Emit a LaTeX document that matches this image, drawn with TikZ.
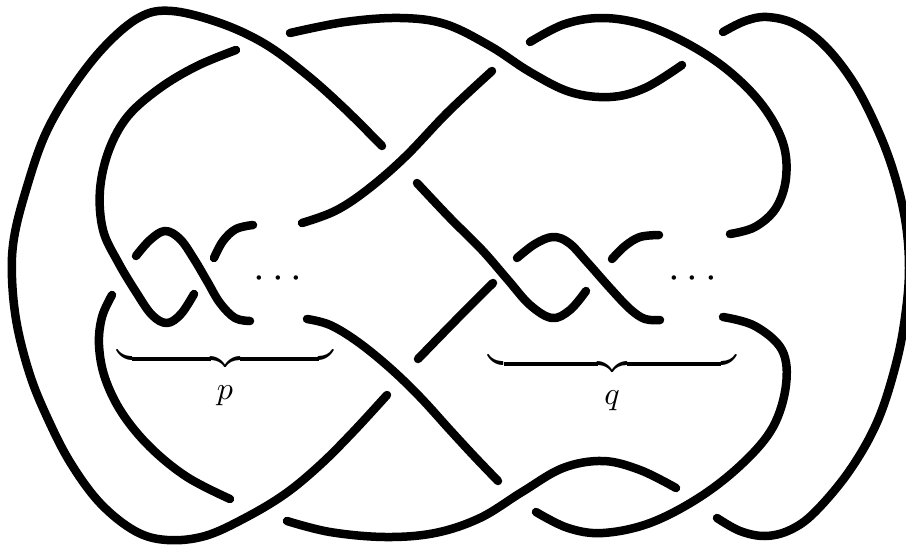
\documentclass[tikz,border=0pt]{standalone}
\tikzset{
  strand/.style={line width=8.5pt,line cap=round,line join=round,black},
  lab/.style={inner sep=0pt,outer sep=0pt}
}
\newcommand{\strandpath}[1]{\draw[strand] plot[smooth,tension=0.6] coordinates {#1};}
\begin{document}
\begin{tikzpicture}[x=1pt,y=-1pt]
\useasboundingbox (0,0) rectangle (906,546);
\clip (0,0) rectangle (906,546);
\strandpath{(382,146) (345,109) (307,75) (265,44) (220,23) (172,11) (140,17) (105,46) (72,88) (45,135) (26,190) (14,238) (12,278) (17,325) (30,375) (47,417) (70,462) (100,503) (135,531) (167,540) (205,536) (245,518) (285,494) (320,465) (353,432) (387,395)}
\strandpath{(236,50) (197,66) (160,88) (128,116) (109,150) (100,190) (103,230) (118,262) (136,292) (152,315) (167,323) (181,314) (194,294)}
\strandpath{(290,33) (345,22) (400,18) (445,24) (490,46) (530,72) (570,92) (610,97) (645,88) (682,65)}
\strandpath{(530,42) (565,24) (603,18) (645,25) (690,45) (730,72) (763,106) (783,143) (786,178) (776,208) (755,227) (730,234)}
\strandpath{(723,32) (745,21) (767,17) (795,24) (825,46) (855,85) (880,135) (896,180) (906,225) (909,268) (906,310) (897,360) (878,420) (850,470) (815,512) (790,530) (765,536) (740,531) (717,518)}
\strandpath{(492,71) (448,112) (405,157) (367,190) (335,211) (302,223)}
\strandpath{(417,183) (450,218) (482,250) (508,280) (530,305) (552,318) (570,310) (586,291)}
\strandpath{(136,256) (150,240) (165,231) (180,239) (194,259) (207,281) (220,303) (235,318) (250,321)}
\strandpath{(214,258) (223,241) (236,229) (253,225)}
\strandpath{(517,258) (535,244) (553,237) (569,243) (587,262) (610,288) (630,309) (645,319) (660,320)}
\strandpath{(612,259) (625,246) (640,237) (659,235)}
\strandpath{(493,283) (455,321) (418,359)}
\strandpath{(307,319) (330,325) (358,342) (390,368) (420,397) (450,430) (474,456) (498,481)}
\strandpath{(112,295) (102,317) (99,345) (105,378) (122,413) (150,447) (187,477) (230,499)}
\strandpath{(287,521) (330,532) (385,537) (435,533) (480,518) (522,492) (563,468) (603,461) (640,470) (676,488)}
\strandpath{(536,512) (568,528) (603,533) (650,523) (700,497) (743,463) (773,427) (786,385) (782,350) (755,326) (723,317)}
\node[lab] (dotsp) at (278,279) {\scalebox{4.2}{$\cdots$}};
\node[lab] (dotsq) at (692.5,279) {\scalebox{4.2}{$\cdots$}};
\node[lab,anchor=north] (bracep) at (225.5,347) {\scalebox{3.3}{$\underbrace{\hspace{65.5pt}}$}};
\node[lab,anchor=north] (braceq) at (612.5,352) {\scalebox{3.3}{$\underbrace{\hspace{75pt}}$}};
\node[lab] (labp) at (225,396) {\scalebox{3.2}{$p$}};
\node[lab] (labq) at (612,401) {\scalebox{3.2}{$q$}};
\end{tikzpicture}
\end{document}
